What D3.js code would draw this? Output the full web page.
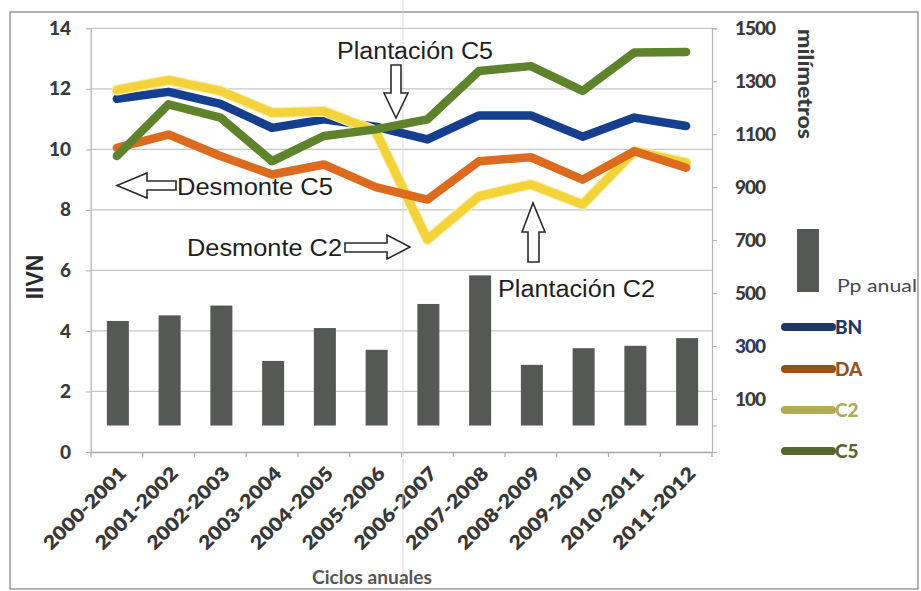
<!DOCTYPE html>
<html>
<head>
<meta charset="utf-8">
<script src="https://cdn.jsdelivr.net/npm/d3@7"></script>
<style>
  html, body { margin: 0; padding: 0; background: #fff; }
  svg { display: block; }
</style>
</head>
<body>
<svg id="chart" width="921" height="591"></svg>
<script>
// Annual cycles
const categories = ["2000-2001","2001-2002","2002-2003","2003-2004","2004-2005","2005-2006",
                    "2006-2007","2007-2008","2008-2009","2009-2010","2010-2011","2011-2012"];
// Annual precipitation (mm), right axis
const ppAnual = [395, 416, 453, 244, 368, 286, 459, 567, 229, 292, 301, 330];
// Vegetation index per site, left axis
const bn = [11.67, 11.90, 11.50, 10.71, 10.99, 10.75, 10.33, 11.12, 11.12, 10.42, 11.05, 10.77];
const da = [10.05, 10.49, 9.78, 9.17, 9.50, 8.75, 8.34, 9.61, 9.74, 9.00, 9.94, 9.39];
const c2 = [11.96, 12.29, 11.93, 11.21, 11.26, 10.60, 7.02, 8.45, 8.84, 8.18, 9.94, 9.56];
const c5 = [9.78, 11.49, 11.05, 9.61, 10.44, 10.66, 10.99, 12.59, 12.75, 11.93, 13.20, 13.22];
// Axis ticks
const leftTicks = [0, 2, 4, 6, 8, 10, 12, 14];
const rightTicks = [100, 300, 500, 700, 900, 1100, 1300, 1500];

const seriesNames = ["BN", "DA", "C2", "C5"];
const seriesValues = [bn, da, c2, c5];
const lineColors = { BN: "#153f8e", DA: "#dc6b1f", C2: "#f3d23a", C5: "#5f822c" };
const legendColors = { BN: "#1f3766", DA: "#98501f", C2: "#b3aa55", C5: "#56642f" };

const svg = d3.select("#chart");
const plot = { left: 91, right: 712, top: 28.3, bottom: 452 };

const x = d3.scaleBand().domain(categories).range([plot.left, plot.right]).padding(0);
const yL = d3.scaleLinear().domain([0, 14]).range([plot.bottom, plot.top]);
const yR = d3.scaleLinear().domain([-100, 1500]).range([plot.bottom, plot.top]);
const cx = c => x(c) + x.bandwidth() / 2;

// outer frame
svg.append("rect").attr("x", 10).attr("y", 12).attr("width", 908).attr("height", 577)
  .attr("fill", "none").attr("stroke", "#9a9a9a").attr("stroke-width", 1.5);

// horizontal gridlines
svg.append("g").selectAll("line").data(leftTicks.filter(d => d > 0)).join("line")
  .attr("x1", plot.left).attr("x2", plot.right)
  .attr("y1", d => yL(d)).attr("y2", d => yL(d))
  .attr("stroke", "#c6c6c6").attr("stroke-width", 1.2);
// plot area side
svg.append("line").attr("x1", plot.left).attr("x2", plot.left)
  .attr("y1", plot.top).attr("y2", plot.bottom).attr("stroke", "#c8c8c8").attr("stroke-width", 1.2);

// left axis
const leftAxis = d3.axisLeft(yL).tickValues(leftTicks).tickSize(5).tickPadding(15);
const gL = svg.append("g").attr("transform", `translate(${plot.left},0)`).call(leftAxis);
gL.select(".domain").attr("stroke", "#c0c0c0");
gL.selectAll(".tick line").attr("stroke", "#b0b0b0");
gL.selectAll(".tick text").attr("font-family", "Lato, 'Open Sans', sans-serif")
  .attr("font-weight", 900).attr("font-size", 19).attr("fill", "#3a3a3a");

// right axis
const rightAxis = d3.axisRight(yR).tickValues([0].concat(rightTicks)).tickSize(5).tickPadding(18)
  .tickFormat(d => d === 0 ? "" : d);
const gR = svg.append("g").attr("transform", `translate(${plot.right},0)`).call(rightAxis);
gR.select(".domain").attr("stroke", "#b5b5b5").attr("stroke-width", 1.2);
gR.selectAll(".tick line").attr("stroke", "#b0b0b0");
gR.selectAll(".tick text").attr("font-family", "Lato, 'Open Sans', sans-serif")
  .attr("font-weight", 900).attr("font-size", 19)
  .attr("fill", d => d === 300 ? "#2c3a68" : "#3a3a3a")
  .attr("letter-spacing", -1);

// bottom axis
const xAxis = d3.axisBottom(x).tickSize(0).tickFormat("");
const gX = svg.append("g").attr("transform", `translate(0,${plot.bottom})`).call(xAxis);
gX.select(".domain").attr("stroke", "#a8a8a8").attr("stroke-width", 1.5);
// category boundary ticks
svg.append("g").selectAll("line").data(d3.range(categories.length + 1)).join("line")
  .attr("x1", i => plot.left + i * x.bandwidth()).attr("x2", i => plot.left + i * x.bandwidth())
  .attr("y1", plot.bottom).attr("y2", plot.bottom + 5)
  .attr("stroke", "#a8a8a8").attr("stroke-width", 1.2);

// rotated category labels
svg.append("g").selectAll("text").data(categories).join("text")
  .attr("transform", d => `translate(${cx(d) + 6},${plot.bottom + 18}) rotate(-45)`)
  .attr("text-anchor", "end").attr("dy", "0.35em")
  .attr("font-family", "Lato, 'Open Sans', sans-serif").attr("font-weight", 800)
  .attr("font-size", 19).attr("fill", "#383838")
  .attr("textLength", 108).attr("lengthAdjust", "spacingAndGlyphs")
  .text(d => d);

// faint vertical crease
svg.append("line").attr("x1", 403).attr("x2", 403).attr("y1", 0).attr("y2", 591)
  .attr("stroke", "#d2d2d2").attr("stroke-width", 1).attr("opacity", 0.8);

// precipitation bars
const barW = 22;
svg.append("g").selectAll("rect").data(categories).join("rect")
  .attr("x", d => cx(d) - barW / 2 + 1)
  .attr("y", (d, i) => yR(ppAnual[i]))
  .attr("width", barW)
  .attr("height", (d, i) => yR(0) - yR(ppAnual[i]))
  .attr("fill", "#545956");

// index lines
const line = d3.line().x((d, i) => cx(categories[i])).y(d => yL(d));
const drawOrder = ["BN", "C2", "DA", "C5"];
drawOrder.forEach(name => {
  const vals = seriesValues[seriesNames.indexOf(name)];
  if (name === "C2") {
    svg.append("path").datum(vals).attr("d", line).attr("fill", "none")
      .attr("stroke", "#f9efb0").attr("stroke-width", 11)
      .attr("stroke-linejoin", "round").attr("stroke-linecap", "round");
  }
  svg.append("path").datum(vals).attr("d", line).attr("fill", "none")
    .attr("stroke", lineColors[name]).attr("stroke-width", 8.5)
    .attr("stroke-linejoin", "round").attr("stroke-linecap", "round");
});

// annotations
const annFont = "'Liberation Sans', Arial, sans-serif";
const annotations = [
  { text: "Plantación C5", x: 337, y: 59, len: 156 },
  { text: "Desmonte C5", x: 177, y: 195, len: 156 },
  { text: "Desmonte C2", x: 187, y: 256, len: 155 },
  { text: "Plantación C2", x: 498, y: 297, len: 157 }
];
svg.append("g").selectAll("text").data(annotations).join("text")
  .attr("x", d => d.x).attr("y", d => d.y)
  .attr("font-family", annFont).attr("font-size", 23).attr("fill", "#1e1e1e")
  .attr("textLength", d => d.len).attr("lengthAdjust", "spacingAndGlyphs")
  .text(d => d.text);

// outlined block arrows
const arrows = [
  // down arrow under "Plantación C5"
  [[391, 65], [401, 65], [401, 93], [408, 93], [396, 118], [384, 93], [391, 93]],
  // up arrow above "Plantación C2"
  [[528, 262], [539, 262], [539, 232], [545, 232], [533, 203], [522, 232], [528, 232]],
  // left arrow before "Desmonte C5"
  [[176, 181], [176, 190], [147, 190], [147, 198], [117, 185.5], [147, 173], [147, 181]],
  // right arrow after "Desmonte C2"
  [[345, 243], [387, 243], [387, 235], [410, 247], [387, 259], [387, 252], [345, 252]]
];
svg.append("g").selectAll("path").data(arrows).join("path")
  .attr("d", d => "M" + d.map(p => p.join(",")).join("L") + "Z")
  .attr("fill", "#fff").attr("stroke", "#2a2a2a").attr("stroke-width", 1.6)
  .attr("stroke-linejoin", "miter");

// axis titles
svg.append("text").attr("transform", "translate(43,277) rotate(-90)")
  .attr("text-anchor", "middle").attr("font-family", "'Liberation Sans', Arial, sans-serif")
  .attr("font-weight", 700).attr("font-size", 23).attr("fill", "#2a2a2a").text("IIVN");
svg.append("text").attr("transform", "translate(798,84) rotate(90)")
  .attr("text-anchor", "middle").attr("font-family", "Lato, 'Open Sans', sans-serif")
  .attr("font-weight", 900).attr("font-size", 20).attr("fill", "#3a3a3a")
  .attr("textLength", 110).attr("lengthAdjust", "spacingAndGlyphs").text("milímetros");
svg.append("text").attr("x", 372).attr("y", 584).attr("text-anchor", "middle")
  .attr("font-family", "Lato, 'Open Sans', sans-serif").attr("font-weight", 700)
  .attr("font-size", 18).attr("fill", "#555")
  .attr("textLength", 120).attr("lengthAdjust", "spacingAndGlyphs").text("Ciclos anuales");

// legend
svg.append("rect").attr("x", 797).attr("y", 229).attr("width", 22).attr("height", 63)
  .attr("fill", "#545956");
svg.append("text").attr("x", 837).attr("y", 292)
  .attr("font-family", "Lato, 'Open Sans', sans-serif").attr("font-size", 17)
  .attr("fill", "#4a4a4a").attr("textLength", 80).attr("lengthAdjust", "spacingAndGlyphs")
  .text("Pp anual");
const legendY = { BN: 327, DA: 369, C2: 410, C5: 451 };
const lg = svg.append("g").selectAll("g").data(seriesNames).join("g");
lg.append("line").attr("x1", 785).attr("x2", 832)
  .attr("y1", d => legendY[d]).attr("y2", d => legendY[d])
  .attr("stroke", d => legendColors[d]).attr("stroke-width", 8).attr("stroke-linecap", "round");
lg.append("text").attr("x", 835).attr("y", d => legendY[d]).attr("dy", "0.36em")
  .attr("font-family", "Lato, 'Open Sans', sans-serif").attr("font-weight", 900)
  .attr("font-size", 19).attr("fill", d => legendColors[d]).text(d => d);
</script>
</body>
</html>
